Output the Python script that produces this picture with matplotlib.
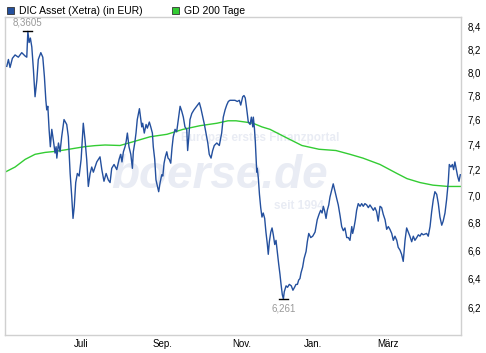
import matplotlib
matplotlib.use("Agg")
import matplotlib.pyplot as plt
from matplotlib.patches import Rectangle
from matplotlib.ticker import FixedLocator, NullLocator, FixedFormatter

plt.rcParams['font.family'] = ['Liberation Sans', 'DejaVu Sans']

# ---- data: trading-day index and closing price (EUR) ----
price_day = [0.4, 1.3, 2.2, 3.5, 5.0, 6.8, 8.7, 10.6, 11.5, 12.1, 12.8, 13.5, 14.3, 15.2, 16.1, 17.1, 17.9, 19.3, 20.4, 21.3,
             22.1, 22.6, 23.2, 23.9, 24.6, 25.4, 26.3, 27.2, 27.8, 28.2, 29.1, 30.0, 30.9, 32.2, 33.7, 34.6, 35.6, 36.5, 37.2, 37.9,
             38.7, 39.6, 40.6, 41.7, 42.9, 43.9, 44.8, 45.7, 46.7, 47.6, 48.5, 50.4, 52.2, 53.2, 54.4, 55.6, 56.8, 57.8, 58.7, 60.0,
             61.5, 62.8, 63.7, 64.4, 65.2, 66.1, 66.7, 67.4, 68.3, 69.3, 70.2, 70.7, 71.5, 72.2, 72.9, 74.1, 74.8, 75.4, 75.9, 76.8,
             77.8, 78.5, 79.6, 80.4, 81.3, 81.8, 82.6, 83.3, 84.1, 84.8, 85.6, 86.5, 87.1, 87.8, 88.5, 89.3, 90.0, 90.7, 91.5, 92.2,
             92.9, 93.9, 94.8, 95.7, 96.7, 97.6, 98.5, 99.4, 100.4, 100.9, 101.5, 102.2, 103.2, 104.4, 105.9, 107.4, 108.3, 109.3, 110.2, 111.1,
             112.1, 112.9, 113.9, 114.8, 115.7, 117.1, 118.5, 119.8, 120.7, 121.7, 122.6, 123.5, 124.4, 125.9, 127.2, 128.5, 129.6, 130.4, 131.5, 132.2,
             132.9, 133.7, 134.6, 135.6, 136.3, 137.1, 137.4, 138.0, 138.5, 138.9, 139.3, 139.6, 140.2, 140.8, 141.5, 142.2, 142.9, 143.7, 144.4, 145.2,
             145.7, 146.3, 147.1, 147.8, 148.5, 149.3, 150.0, 150.7, 151.5, 152.2, 152.8, 153.5, 154.1, 154.6, 155.6, 156.4, 157.4, 158.5, 159.4, 160.3,
             161.1, 161.9, 162.6, 163.3, 163.9, 164.8, 165.6, 166.7, 167.4, 168.2, 169.3, 170.4, 171.7, 172.9, 173.9, 174.8, 175.6, 176.3, 177.1, 177.8,
             178.5, 179.3, 180.0, 180.9, 181.8, 182.8, 183.7, 184.6, 185.6, 186.5, 187.4, 188.3, 189.3, 190.2, 191.1, 192.1, 192.6, 193.3, 194.1, 194.8,
             195.7, 196.7, 197.6, 198.5, 199.4, 200.4, 201.3, 202.2, 203.2, 204.1, 205.0, 205.9, 206.8, 207.8, 208.7, 209.6, 210.6, 211.5, 212.4, 213.3,
             214.3, 215.2, 216.1, 217.1, 217.9, 218.9, 219.8, 220.7, 221.7, 222.6, 223.5, 224.4, 225.4, 226.3, 227.2, 228.2, 229.1, 230.0, 230.9, 231.8,
             233.7, 234.6, 235.6, 236.5, 237.4, 238.3, 239.3, 240.2, 241.1, 242.1, 242.9, 243.9, 244.8, 245.7, 246.3, 247.2, 248.0, 248.7, 249.4, 250.2,
             250.9, 251.7, 252.4]
price = [8.05, 8.11, 8.04, 8.12, 8.15, 8.13, 8.17, 8.14, 8.13, 8.3605, 8.26, 8.30, 8.22, 8.02, 7.79, 7.93, 8.11, 8.17, 8.13, 7.96,
         7.76, 7.68, 7.71, 7.52, 7.38, 7.52, 7.43, 7.33, 7.38, 7.29, 7.41, 7.34, 7.46, 7.60, 7.56, 7.46, 7.17, 6.99, 6.83, 6.92,
         7.10, 7.17, 7.15, 7.28, 7.57, 7.43, 7.28, 7.07, 7.17, 7.22, 7.18, 7.26, 7.30, 7.20, 7.11, 7.17, 7.12, 7.10, 7.21, 7.24,
         7.20, 7.28, 7.32, 7.26, 7.34, 7.38, 7.42, 7.49, 7.38, 7.32, 7.21, 7.34, 7.41, 7.49, 7.60, 7.69, 7.61, 7.54, 7.57, 7.49,
         7.56, 7.53, 7.58, 7.54, 7.49, 7.38, 7.28, 7.12, 7.07, 7.03, 7.10, 7.16, 7.15, 7.25, 7.30, 7.34, 7.29, 7.28, 7.25, 7.37,
         7.46, 7.52, 7.50, 7.60, 7.71, 7.67, 7.62, 7.54, 7.52, 7.35, 7.45, 7.60, 7.65, 7.68, 7.71, 7.74, 7.69, 7.62, 7.56, 7.49,
         7.41, 7.32, 7.29, 7.35, 7.39, 7.41, 7.39, 7.49, 7.62, 7.68, 7.72, 7.75, 7.76, 7.76, 7.76, 7.75, 7.76, 7.72, 7.79, 7.80,
         7.78, 7.69, 7.58, 7.56, 7.62, 7.54, 7.62, 7.53, 7.42, 7.29, 7.18, 7.21, 7.13, 7.01, 6.91, 6.84, 6.87, 6.83, 6.73, 6.64,
         6.57, 6.66, 6.73, 6.76, 6.71, 6.64, 6.67, 6.59, 6.50, 6.43, 6.36, 6.29, 6.261, 6.31, 6.35, 6.34, 6.36, 6.35, 6.32, 6.34,
         6.36, 6.36, 6.39, 6.40, 6.44, 6.48, 6.54, 6.59, 6.66, 6.72, 6.69, 6.70, 6.73, 6.82, 6.86, 6.89, 6.87, 6.92, 6.88, 6.83,
         6.89, 6.93, 6.99, 7.04, 7.09, 7.03, 6.98, 6.93, 6.85, 6.77, 6.74, 6.76, 6.69, 6.69, 6.67, 6.77, 6.72, 6.76, 6.82, 6.89,
         6.94, 6.92, 6.94, 6.92, 6.94, 6.93, 6.91, 6.93, 6.91, 6.89, 6.91, 6.88, 6.81, 6.92, 6.91, 6.86, 6.82, 6.75, 6.77, 6.75,
         6.72, 6.67, 6.70, 6.67, 6.62, 6.60, 6.57, 6.52, 6.67, 6.76, 6.73, 6.70, 6.66, 6.70, 6.67, 6.69, 6.71, 6.70, 6.72, 6.71,
         6.72, 6.70, 6.77, 6.88, 6.97, 7.03, 7.01, 6.94, 6.84, 6.78, 6.81, 6.87, 6.97, 7.10, 7.24, 7.22, 7.24, 7.20, 7.26, 7.20,
         7.15, 7.11, 7.16]

gd_day = [-0.6, 5.0, 10.6, 16.1, 21.7, 27.2, 32.8, 38.3, 43.9, 49.4, 55.0, 63.3, 70.6, 80.0, 89.4, 98.3, 107.8, 117.2, 123.3,
          127.8, 132.8, 137.2, 142.2, 146.7, 156.1, 164.4, 173.9, 183.3, 191.1, 198.3, 207.8, 217.2, 222.8, 230.0, 237.2, 245.6, 252.8]
gd200 = [7.18, 7.22, 7.28, 7.32, 7.335, 7.343, 7.355, 7.368, 7.381, 7.389, 7.394, 7.39, 7.42, 7.46, 7.48, 7.52, 7.55, 7.57, 7.59,
         7.59, 7.58, 7.57, 7.54, 7.52, 7.45, 7.39, 7.36, 7.35, 7.32, 7.29, 7.24, 7.17, 7.13, 7.10, 7.08, 7.07, 7.07]

month_labels = ['Juli', 'Sep.', 'Nov.', 'Jan.', 'März']
month_pos = [41.7, 87.2, 131.1, 170.6, 212.2]
y_ticks = [6.2, 6.4, 6.6, 6.8, 7.0, 7.2, 7.4, 7.6, 7.8, 8.0, 8.2, 8.4]
series_names = ['DIC Asset (Xetra) (in EUR)', 'GD 200 Tage']
hi_val, lo_val = 8.3605, 6.261

BLUE = '#24509e'
GREEN = '#33cc33'

W, H = 486, 353
fig = plt.figure(figsize=(W / 100, H / 100), dpi=100)
ax = fig.add_axes([5 / W, (H - 335) / H, (461 - 5) / W, (335 - 17) / H])

ax.set_yscale('log')
ax.set_xlim(-0.6, 252.8)
ax.set_ylim(6.0214, 8.491)

# watermark
WM = '#e9ecf4'
ax.text(0.56, 0.62, 'Europas erstes Finanzportal', transform=ax.transAxes, ha='center', va='center',
        fontsize=8.5, color=WM, fontweight='bold', zorder=0)
ax.text(0.47, 0.50, 'boerse.de', transform=ax.transAxes, ha='center', va='center',
        fontsize=33, color=WM, fontweight='bold', fontstyle='italic', zorder=0)
ax.text(0.645, 0.405, 'seit 1994', transform=ax.transAxes, ha='center', va='center',
        fontsize=8.5, color=WM, fontweight='bold', zorder=0)

ax.plot(gd_day, gd200, color=GREEN, lw=1.0, zorder=2)
ax.plot(price_day, price, color=BLUE, lw=1.0, zorder=3)

# high / low markers
i_hi = price.index(hi_val)
i_lo = price.index(lo_val)
for i, val, off, va in [(i_hi, hi_val, 3, 'bottom'), (i_lo, lo_val, -3, 'top')]:
    d = price_day[i]
    ax.plot([d - 2.6, d + 2.4], [val, val], color='black', lw=1.0, zorder=4)
    ax.annotate(f'{val}'.replace('.', ','), xy=(d, val), xytext=(0, off), textcoords='offset points',
                ha='center', va=va, fontsize=7, color='#999999')

ax.yaxis.tick_right()
ax.yaxis.set_major_locator(FixedLocator(y_ticks))
ax.yaxis.set_major_formatter(FixedFormatter([f'{v:.1f}'.replace('.', ',') for v in y_ticks]))
ax.yaxis.set_minor_locator(NullLocator())
ax.xaxis.set_major_locator(FixedLocator(month_pos))
ax.xaxis.set_major_formatter(FixedFormatter(month_labels))
ax.tick_params(axis='both', length=0, labelsize=7, colors='black')
ax.tick_params(axis='y', pad=5)
ax.tick_params(axis='x', pad=3)
for s in ax.spines.values():
    s.set_color('#d0d0d0')
    s.set_linewidth(1.0)

# legend
for x0, col, name in [(7, BLUE, series_names[0]), (172, GREEN, series_names[1])]:
    fig.patches.append(Rectangle((x0 / W, (H - 14) / H), 7 / W, 7 / H, transform=fig.transFigure,
                                 facecolor=col, edgecolor='#333333', lw=0.6))
    fig.text((x0 + 12) / W, (H - 10.5) / H, name, ha='left', va='center', fontsize=7.5, color='black')

fig.savefig('out.png', dpi=100)
